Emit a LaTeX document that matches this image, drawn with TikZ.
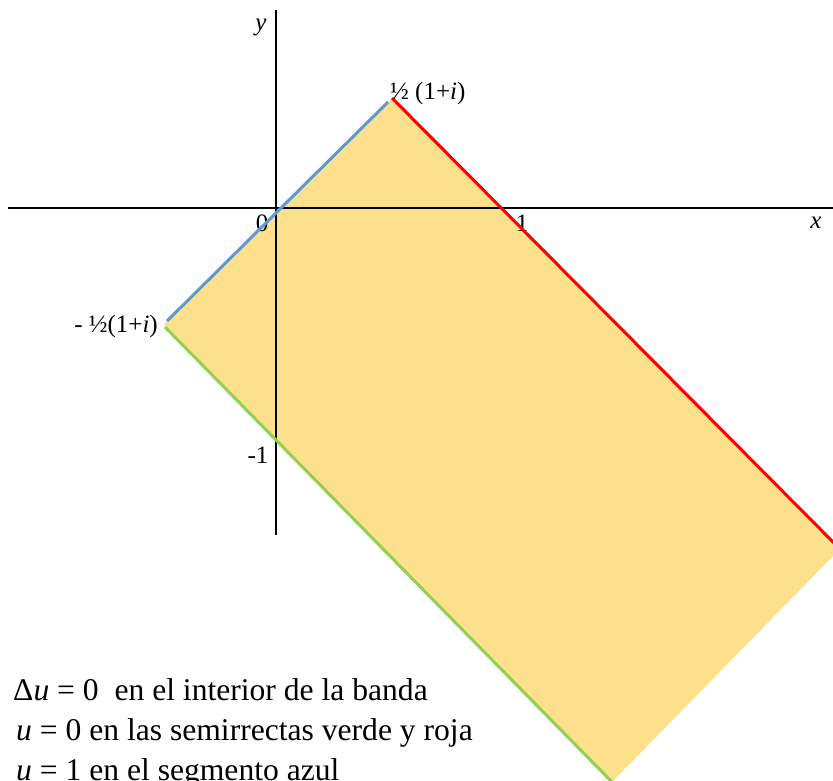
\documentclass[tikz,border=0pt]{standalone}
\usepackage{fontspec}
\setmainfont{Liberation Serif}
\begin{document}
\begin{tikzpicture}[x=1pt,y=-1pt,
  axis/.style={line width=2pt,black},
  edge/.style={line width=3pt},
  lbl/.style={inner sep=0pt,font=\fontsize{25}{28}\selectfont},
  txt/.style={inner sep=0pt,anchor=base west,font=\fontsize{31.6}{36}\selectfont}]
\definecolor{bandfill}{RGB}{253,224,140}
\definecolor{bluel}{RGB}{91,155,213}
\definecolor{greenl}{RGB}{146,208,80}
\definecolor{redl}{RGB}{255,0,0}
\useasboundingbox (0,0) rectangle (833,780);
\clip (0,0) rectangle (833,780);
\coordinate (A) at (164,324);
\coordinate (Ab) at (167,321);
\coordinate (Ag) at (165,327);
\coordinate (B) at (392,98);
\coordinate (Bb) at (388,102);
\coordinate (C) at (840,549);
\coordinate (D) at (612,782);
\fill[bandfill] (A) -- (B) -- (C) -- (D) -- cycle;
\coordinate (xl) at (8,208);
\coordinate (xr) at (833,208);
\coordinate (yt) at (276,10);
\coordinate (yb) at (276,535);
\node[lbl] (zero) at (262,223) {0};
\node[lbl] (one) at (522,223) {1};
\draw[axis] (xl) -- (xr);
\draw[axis] (yt) -- (yb);
\draw[edge,bluel] (Ab) -- (Bb);
\draw[edge,redl] (B) -- (C);
\draw[edge,greenl] (Ag) -- (D);
\node[lbl] (ylab) at (261,27) {\textit{y}};
\node[lbl] (xlab) at (816,223) {\textit{x}};
\node[lbl] (mone) at (258,455) {-1};
\node[lbl,anchor=base west] (pp) at (390,99) {½ (1+\textit{i})};
\node[lbl,anchor=base east] (mp) at (158,332) {- ½(1+\textit{i})};
\node[txt] (t1) at (13,700) {Δ\textit{u} = 0\ \ en el interior de la banda};
\node[txt] (t2) at (16,740) {\textit{u} = 0 en las semirrectas verde y roja};
\node[txt] (t3) at (16,780) {\textit{u} = 1 en el segmento azul};
\end{tikzpicture}
\end{document}
